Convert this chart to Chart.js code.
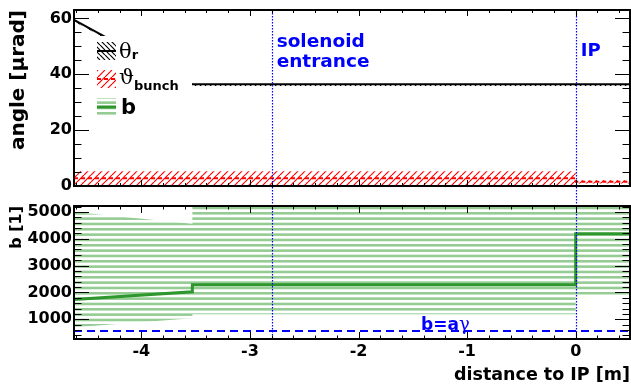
<!DOCTYPE html>
<html lang="en">
<head>
<meta charset="UTF-8">
<title>angle and b vs distance to IP</title>
<script src="https://cdn.jsdelivr.net/npm/chart.js"></script>
<style>
  body { margin: 0; background: #fff; }
  #wrap { position: relative; width: 631px; height: 384px; }
  canvas { position: absolute; left: 0; }
  #top { top: 0; }
  #bottom { top: 196px; }
</style>
</head>
<body>
<div id="wrap">
  <canvas id="top" width="631" height="196"></canvas>
  <canvas id="bottom" width="631" height="188"></canvas>
</div>

<script>
    // ---- data ----
    const xMin = -4.62, xMax = 0.5;
    const markers = [-2.8, 0];            // solenoid entrance, IP
    const markerText = [['solenoid', 'entrance'], ['IP']];

    // upper pad: angles [urad]
    const thetaX  = [-4.62, -3.53, 0.5];
    const thetaR  = [59.5, 36.4, 36.4];
    const thetaLo = [58.9, 35.8, 35.8];

    const bunchX  = [-4.62, 0, 0, 0.5];
    const bunch   = [2.8, 2.8, 1.5, 1.5];
    const bunchLo = [0.4, 0.4, 0.9, 0.9];
    const bunchHi = [5.3, 5.3, 2.1, 2.1];

    // lower pad: b
    const bX   = [-4.62, -3.53, -3.53, 0, 0, 0.5];
    const b    = [1733, 2025, 2282, 2282, 4187, 4187];
    const bLo  = [707, 1037, 1183, 1183, 1916, 1916];
    const bHi  = [5000, 4560, 5300, 5300, 5300, 5300];
    const bMinX = [-4.62, 0.5];
    const bMin  = [560, 560];

    const xTicks = [-4, -3, -2, -1, 0];
    const angleTicks = [0, 20, 40, 60];
    const bTicks = [1000, 2000, 3000, 4000, 5000];

    // ---- styles ----
    const blue = '#0000ff';
    const red = '#ff0000';
    const green = '#2d962d';
    const lightGreen = '#94cc94';
    Chart.defaults.font.family = 'DejaVu Sans';

    const bold = size => ({ family: 'DejaVu Sans', weight: 'bold', size: size, lineHeight: 1 });
    const pts = (xs, ys) => xs.map((x, i) => ({ x: x, y: ys[i] }));

    function makePattern(w, h, draw) {
        const c = document.createElement('canvas');
        c.width = w;
        c.height = h;
        const g = c.getContext('2d');
        draw(g, w, h);
        return g.createPattern(c, 'repeat');
    }

    const redHatch = makePattern(7, 7, (g, w, h) => {
        g.strokeStyle = red;
        g.lineWidth = 1.2;
        g.beginPath();
        for (const o of [-w, 0, w]) { g.moveTo(o, h); g.lineTo(o + w, 0); }
        g.stroke();
    });
    const blackHatch = makePattern(5, 5, (g, w, h) => {
        g.strokeStyle = '#000';
        g.lineWidth = 1.2;
        g.beginPath();
        for (const o of [-w, 0, w]) { g.moveTo(o, 0); g.lineTo(o + w, h); }
        g.stroke();
    });
    // horizontal hatch, three stripes per 16 px
    const greenStripes = makePattern(4, 16, (g, w) => {
        g.fillStyle = lightGreen;
        for (const y of [0, 16 / 3, 32 / 3]) g.fillRect(0, y, w, 2.6);
    });

    // bands sit below the lines (higher order is drawn first)
    const band = (xs, ys, fill, pattern) => ({
        data: pts(xs, ys), borderColor: 'rgba(0,0,0,0)', borderWidth: 0, order: 2,
        pointRadius: 0, fill: fill, backgroundColor: pattern || 'rgba(0,0,0,0)'
    });
    const line = (xs, ys, color, width, dash) => ({
        data: pts(xs, ys), borderColor: color, borderWidth: width, borderDash: dash || [],
        order: 1, pointRadius: 0, fill: false
    });

    // ---- drawing helpers (ROOT-like frame with inner ticks) ----
    function drawFrame(chart, cfg) {
        const { ctx, chartArea: a, scales: { x, y } } = chart;
        ctx.save();
        ctx.strokeStyle = '#000';
        ctx.lineWidth = 1;
        ctx.beginPath();
        const axisTicks = (scale, major, minor, fn) => {
            const k = Math.round(major / minor);
            const n0 = Math.ceil(scale.min / minor - 1e-9), n1 = Math.floor(scale.max / minor + 1e-9);
            for (let n = n0; n <= n1; n++) {
                const isMajor = ((n % k) + k) % k === 0;
                fn(Math.round(scale.getPixelForValue(n * minor)) + 0.5, isMajor);
            }
        };
        axisTicks(x, 1, 0.2, (px, m) => {
            const len = m ? cfg.xLen : cfg.xLen / 2;
            ctx.moveTo(px, a.bottom); ctx.lineTo(px, a.bottom - len);
            ctx.moveTo(px, a.top); ctx.lineTo(px, a.top + len);
        });
        axisTicks(y, cfg.yMajor, cfg.yMinor, (py, m) => {
            const len = m ? 15 : 7.5;
            ctx.moveTo(a.left, py); ctx.lineTo(a.left + len, py);
            ctx.moveTo(a.right, py); ctx.lineTo(a.right - len, py);
        });
        ctx.stroke();
        ctx.lineWidth = 2;
        ctx.strokeRect(a.left, a.top, a.right - a.left, a.bottom - a.top);
        ctx.restore();
    }

    function drawMarkers(chart, y0, y1) {
        const { ctx, scales: { x } } = chart;
        ctx.save();
        ctx.strokeStyle = blue;
        ctx.lineWidth = 1.2;
        ctx.setLineDash([1.5, 1.5]);
        markers.forEach(m => {
            const px = Math.round(x.getPixelForValue(m)) + 0.5;
            ctx.beginPath();
            ctx.moveTo(px, y0);
            ctx.lineTo(px, y1);
            ctx.stroke();
        });
        ctx.restore();
    }

    function drawLegend(chart) {
        const { ctx, chartArea: a } = chart;
        const left = a.left + 19, top = a.top + 26;
        ctx.save();
        ctx.fillStyle = '#fff';
        ctx.fillRect(left, top, 99, 85);
        const rows = [
            { fill: blackHatch, color: '#000', width: 2, dash: [], main: 'θ', sub: 'r' },
            { fill: redHatch, color: red, width: 2, dash: [4, 3], main: 'ϑ', sub: 'bunch' },
            { fill: greenStripes, color: green, width: 3, dash: [], main: 'b', sub: '' }
        ];
        rows.forEach((r, i) => {
            const cy = top + 15 + i * 28;
            const sx = left + 4;
            ctx.fillStyle = r.fill;
            ctx.fillRect(sx, cy - 9, 19, 18);
            ctx.strokeStyle = r.color;
            ctx.lineWidth = r.width;
            ctx.setLineDash(r.dash);
            ctx.beginPath();
            ctx.moveTo(sx, cy);
            ctx.lineTo(sx + 19, cy);
            ctx.stroke();
            ctx.setLineDash([]);
            ctx.fillStyle = '#000';
            ctx.textBaseline = 'alphabetic';
            ctx.textAlign = 'left';
            if (r.main === 'b') {
                ctx.font = 'bold 21px "DejaVu Sans"';
                ctx.fillText(r.main, sx + 24, cy + 7);
            } else {
                ctx.font = '21px "DejaVu Serif"';
                ctx.fillText(r.main, sx + 22, cy + (i === 0 ? 7 : 5));
                const w = ctx.measureText(r.main).width;
                ctx.font = 'bold 13px "DejaVu Sans"';
                ctx.fillText(r.sub, sx + 22 + w, cy + (i === 0 ? 8 : 11));
            }
        });
        ctx.restore();
    }

    function drawMarkerText(chart) {
        const { ctx, chartArea: a, scales: { x } } = chart;
        ctx.save();
        ctx.fillStyle = blue;
        ctx.textAlign = 'left';
        ctx.textBaseline = 'alphabetic';
        markers.forEach((m, i) => {
            const px = x.getPixelForValue(m) + 5;
            const lines = markerText[i];
            ctx.font = 'bold ' + (lines.length > 1 ? 18.5 : 18) + 'px "DejaVu Sans"';
            const y0 = lines.length > 1 ? a.top + 37 : a.top + 46;
            lines.forEach((t, j) => ctx.fillText(t, px, y0 + j * 20));
        });
        ctx.restore();
    }

    function drawBLabel(chart) {
        const { ctx, scales: { x, y } } = chart;
        ctx.save();
        ctx.fillStyle = blue;
        ctx.textBaseline = 'alphabetic';
        ctx.textAlign = 'left';
        const base = y.getPixelForValue(bMin[0]) - 1;
        ctx.font = 'bold 17px "DejaVu Sans"';
        const w1 = ctx.measureText('b=a').width;
        ctx.font = '18px "DejaVu Serif"';
        const w2 = ctx.measureText('γ').width;
        const x0 = x.getPixelForValue(-1.2) - (w1 + w2) / 2;
        ctx.font = 'bold 17px "DejaVu Sans"';
        ctx.fillText('b=a', x0, base);
        ctx.font = '18px "DejaVu Serif"';
        ctx.fillText('γ', x0 + w1, base);
        ctx.restore();
    }

    const hiddenGrid = { display: false, drawTicks: false };

    // ---- upper pad ----
    new Chart(document.getElementById('top'), {
        type: 'line',
        data: {
            datasets: [
                band(bunchX, bunchLo, false),
                band(bunchX, bunchHi, '-1', redHatch),
                line(bunchX, bunch, red, 2, [4, 3]),
                band(thetaX, thetaLo, false),
                band(thetaX, thetaR, '-1', blackHatch),
                line(thetaX, thetaR, '#000', 2)
            ]
        },
        options: {
            responsive: false,
            animation: false,
            layout: { padding: { top: 7, right: 1, bottom: 8, left: 0 } },
            plugins: { legend: { display: false }, tooltip: { enabled: false } },
            scales: {
                x: { type: 'linear', min: xMin, max: xMax, display: false },
                y: {
                    min: 0, max: 63,
                    afterBuildTicks: s => { s.ticks = angleTicks.map(v => ({ value: v })); },
                    afterFit: s => { s.width = 74; },
                    grid: hiddenGrid,
                    border: { display: false },
                    ticks: { font: bold(16), color: '#000', padding: 2, callback: v => String(v) },
                    title: {
                        display: true, text: 'angle [µrad]', align: 'end', color: '#000',
                        font: bold(20), padding: { top: 9, bottom: 0 }
                    }
                }
            }
        },
        plugins: [{
            id: 'upperPad',
            afterDatasetsDraw(chart) {
                drawMarkers(chart, chart.chartArea.top, chart.height);
                drawLegend(chart);
                drawMarkerText(chart);
                drawFrame(chart, { xLen: 6, yMajor: 20, yMinor: 5 });
            }
        }]
    });

    // ---- lower pad ----
    new Chart(document.getElementById('bottom'), {
        type: 'line',
        data: {
            datasets: [
                band(bX, bLo, false),
                band(bX, bHi, '-1', greenStripes),
                line(bX, b, green, 3),
                line(bMinX, bMin, blue, 2, [8, 5])
            ]
        },
        options: {
            responsive: false,
            animation: false,
            layout: { padding: { top: 8, right: 1, bottom: 0, left: 0 } },
            plugins: { legend: { display: false }, tooltip: { enabled: false } },
            scales: {
                x: {
                    type: 'linear', min: xMin, max: xMax,
                    afterBuildTicks: s => { s.ticks = xTicks.map(v => ({ value: v })); },
                    afterFit: s => { s.height = 45; },
                    grid: hiddenGrid,
                    border: { display: false },
                    ticks: { font: bold(16), color: '#000', padding: 5, maxRotation: 0, callback: v => String(v) },
                    title: {
                        display: true, text: 'distance to IP [m]', align: 'end', color: '#000',
                        font: bold(17.5), padding: { top: 0, bottom: 0 }
                    }
                },
                y: {
                    min: 265, max: 5220,
                    afterBuildTicks: s => { s.ticks = bTicks.map(v => ({ value: v })); },
                    afterFit: s => { s.width = 74; },
                    grid: hiddenGrid,
                    border: { display: false },
                    ticks: { font: bold(16), color: '#000', padding: 2, callback: v => String(v) },
                    title: {
                        display: true, text: 'b [1]', align: 'end', color: '#000',
                        font: bold(16), padding: { top: 9, bottom: 0 }
                    }
                }
            }
        },
        plugins: [{
            id: 'lowerPad',
            afterDatasetsDraw(chart) {
                drawMarkers(chart, 0, chart.chartArea.bottom);
                drawBLabel(chart);
                drawFrame(chart, { xLen: 7, yMajor: 1000, yMinor: 200 });
            }
        }]
    });
</script>
</body>
</html>
